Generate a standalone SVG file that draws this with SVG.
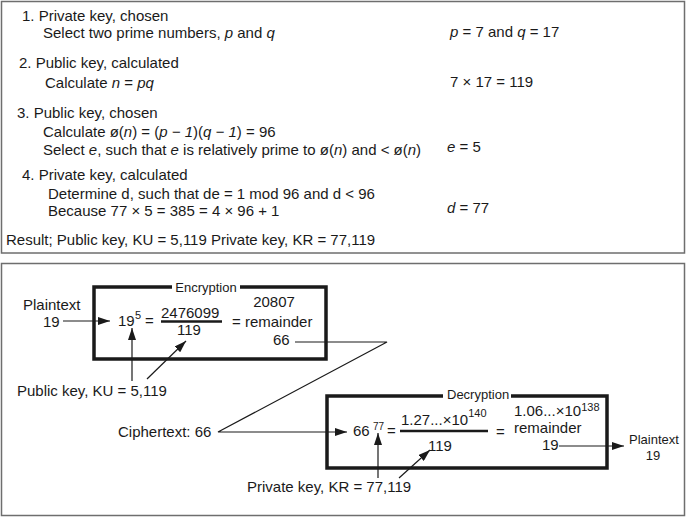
<svg xmlns="http://www.w3.org/2000/svg" width="688" height="518" viewBox="0 0 688 518">
<style>
text{font-family:"Liberation Sans",Arial,Helvetica,sans-serif;font-size:15px;fill:#1a1a1a}
.it{font-style:italic}
.sm{font-size:13px}
.sup{font-size:11px}
.frame{fill:none;stroke:#6e6e6e;stroke-width:1.5}
.box{fill:none;stroke:#1a1a1a;stroke-width:3.5}
.ln{fill:none;stroke:#1a1a1a;stroke-width:1.2}
.bar{stroke:#1a1a1a;stroke-width:2.5}
</style>
<defs>
<marker id="ah" viewBox="0 0 12 8" refX="12" refY="4" markerWidth="12" markerHeight="8" markerUnits="userSpaceOnUse" orient="auto">
<path d="M0,0 L12,4 L0,8 Z" fill="#1a1a1a"/>
</marker>
</defs>
<rect width="688" height="518" fill="#ffffff"/>

<g id="keygen">
<rect class="frame" x="1.5" y="1.5" width="683" height="251.5"/>
<text x="22" y="21">1. Private key, chosen</text>
<text x="43" y="38">Select two prime numbers, <tspan class="it">p</tspan> and <tspan class="it">q</tspan></text>
<text x="19" y="68">2. Public key, calculated</text>
<text x="45" y="88">Calculate <tspan class="it">n</tspan> = <tspan class="it">pq</tspan></text>
<text x="17" y="118">3. Public key, chosen</text>
<text x="43" y="137">Calculate ø(<tspan class="it">n</tspan>) = (<tspan class="it">p − 1</tspan>)(<tspan class="it">q − 1</tspan>)  = 96</text>
<text x="43" y="155">Select <tspan class="it">e</tspan>, such that <tspan class="it">e</tspan> is relatively prime to ø(<tspan class="it">n</tspan>) and &lt; ø(<tspan class="it">n</tspan>)</text>
<text x="22" y="180">4. Private key, calculated</text>
<text x="48" y="199">Determine d, such that de = 1 mod 96 and d &lt; 96</text>
<text x="48" y="216">Because 77 × 5 = 385 = 4 × 96 + 1</text>
<text x="6" y="245">Result; Public key, KU = 5,119 Private key, KR = 77,119</text>
<text x="450" y="37"><tspan class="it">p</tspan> = 7 and <tspan class="it">q</tspan> = 17</text>
<text x="450" y="87">7 × 17 = 119</text>
<text x="447" y="152"><tspan class="it">e</tspan> = 5</text>
<text x="447" y="213"><tspan class="it">d</tspan> = 77</text>
</g>

<g id="example">
<rect class="frame" x="1.5" y="263.5" width="683" height="252"/>
</g>

<g id="encryption">
<path class="box" d="M172,287 H94 V359 H326 V287 H240"/>
<text class="sm" x="206" y="292" text-anchor="middle">Encryption</text>
<text x="118" y="326">19</text>
<text class="sup" x="135" y="319">5</text>
<text x="145" y="326">=</text>
<text x="161" y="318">2476099</text>
<line class="bar" x1="161" y1="321.5" x2="222" y2="321.5"/>
<text x="177" y="335">119</text>
<text x="274" y="307" text-anchor="middle">20807</text>
<text x="232" y="327">= remainder</text>
<text x="273" y="345">66</text>
</g>

<g id="decryption">
<path class="box" d="M443,396 H327 V468 H607 V396 H511"/>
<text class="sm" x="447" y="399">Decryption</text>
<text x="353" y="436">66</text>
<text class="sup" x="373" y="430" style="font-size:10px">77</text>
<text x="387" y="436">=</text>
<text x="401" y="425">1.27...×10<tspan class="sup" dy="-8">140</tspan></text>
<line class="bar" x1="400" y1="431" x2="488" y2="431"/>
<text x="428" y="451">119</text>
<text x="496" y="437">=</text>
<text x="514" y="416">1.06...×10<tspan class="sup" dy="-5">138</tspan></text>
<text x="514" y="433">remainder</text>
<text x="542" y="450">19</text>
</g>

<g id="labels">
<text x="23" y="310">Plaintext</text>
<text x="43" y="327">19</text>
<text x="17" y="396">Public key, KU = 5,119</text>
<text x="118" y="437">Ciphertext: 66</text>
<text x="247" y="492">Private key, KR = 77,119</text>
<text class="sm" x="654" y="444" text-anchor="middle">Plaintext</text>
<text class="sm" x="653" y="460" text-anchor="middle">19</text>
</g>

<g id="connectors">
<line class="ln" x1="63" y1="321" x2="110" y2="321" marker-end="url(#ah)"/>
<line class="ln" x1="132" y1="381" x2="132" y2="328" marker-end="url(#ah)"/>
<line class="ln" x1="147" y1="379" x2="186" y2="341" marker-end="url(#ah)"/>
<polyline class="ln" points="295,342 387,342 218,432 347,432" marker-end="url(#ah)"/>
<line class="ln" x1="378" y1="478" x2="378" y2="433" marker-end="url(#ah)"/>
<line class="ln" x1="399" y1="478" x2="430" y2="450" marker-end="url(#ah)"/>
<line class="ln" x1="559" y1="446" x2="624" y2="446" marker-end="url(#ah)"/>
</g>
</svg>
